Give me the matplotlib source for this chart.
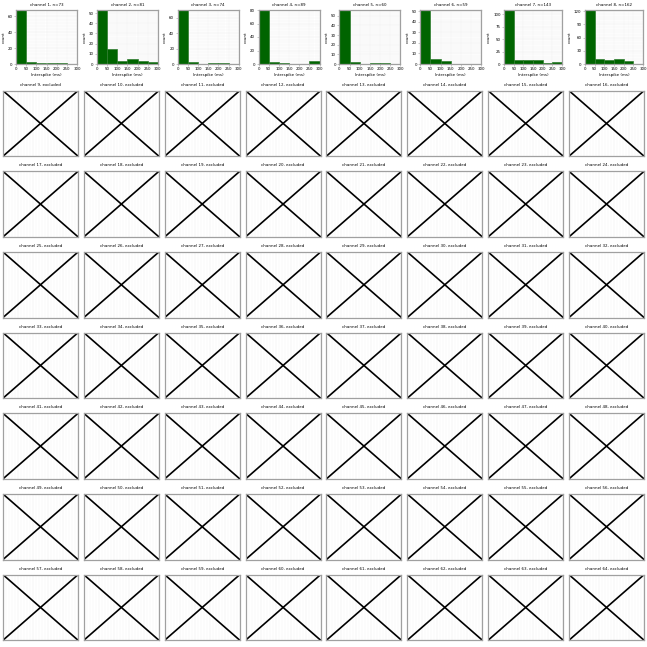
import numpy as np
import matplotlib
matplotlib.use("Agg")
import matplotlib.pyplot as plt
from matplotlib.ticker import MultipleLocator

# histogram data for the kept channels (bins of 50 ms, 0 -> 300 ms)
bin_edges = [0, 50, 100, 150, 200, 250, 300]
kept_channels = [1, 2, 3, 4, 5, 6, 7, 8]
n_spikes = [73, 81, 74, 89, 60, 59, 143, 162]
counts_ch1 = [68, 2, 1, 1, 1, 0]
counts_ch2 = [53, 15, 3, 5, 3, 2]
counts_ch3 = [70, 2, 0, 1, 1, 0]
counts_ch4 = [80, 3, 2, 0, 0, 4]
counts_ch5 = [56, 2, 0, 1, 1, 0]
counts_ch6 = [51, 5, 3, 0, 0, 0]
counts_ch7 = [109, 8, 9, 9, 3, 5]
counts_ch8 = [123, 12, 8, 12, 6, 1]
all_counts = [counts_ch1, counts_ch2, counts_ch3, counts_ch4,
              counts_ch5, counts_ch6, counts_ch7, counts_ch8]
ytick_step = [20, 10, 20, 20, 10, 10, 25, 30]
xticks = [0, 50, 100, 150, 200, 250, 300]

excluded_channels = list(range(9, 65))

W = 647.0
fig = plt.figure(figsize=(6.47, 6.47), dpi=100)

col_pitch = 80.86
row_pitch = 80.67
FS = 2.9
SPINE = '#a0a0a0'


def px_axes(left, top, width, height):
    return fig.add_axes([left / W, 1 - (top + height) / W, width / W, height / W])


def style_grid(ax):
    ax.set_axisbelow(True)
    ax.grid(True, which='major', color='#ececec', lw=0.35)
    ax.grid(True, which='minor', color='#f5f5f5', lw=0.3)
    for s in ax.spines.values():
        s.set_color(SPINE)
        s.set_linewidth(0.9)


# first row: histograms
for i, ch in enumerate(kept_channels):
    counts = np.array(all_counts[i])
    centers = (np.array(bin_edges[:-1]) + np.array(bin_edges[1:])) / 2
    cell_left = 3 + i * col_pitch
    off = 16 if counts.max() >= 100 else 13
    ax = px_axes(cell_left + off, 10, 74 - off, 54)
    ax.hist(centers, bins=bin_edges, weights=counts, color='#006400',
            edgecolor='#2f7d2f', linewidth=0.5, zorder=2)
    ax.set_xlim(0, 300)
    ax.set_ylim(0, counts.max())
    ax.set_xticks(xticks)
    ax.yaxis.set_major_locator(MultipleLocator(ytick_step[i]))
    ax.xaxis.set_minor_locator(MultipleLocator(10))
    ax.yaxis.set_minor_locator(MultipleLocator(ytick_step[i] / 5))
    ax.tick_params(which='major', labelsize=FS, length=1.5, width=0.4,
                   color=SPINE, pad=1)
    ax.tick_params(which='minor', length=0)
    ax.set_title(f"channel {ch}, n={n_spikes[i]}", fontsize=FS, pad=3)
    ax.set_xlabel("Interspike (ms)", fontsize=FS, labelpad=1)
    ax.set_ylabel("count", fontsize=FS, labelpad=1.5)
    style_grid(ax)

# remaining rows: excluded channels with a cross
for k, ch in enumerate(excluded_channels):
    idx = k + 8
    r, c = divmod(idx, 8)
    ax = px_axes(3 + c * col_pitch, 10 + r * row_pitch, 75, 65.5)
    ax.set_xlim(0, 1)
    ax.set_ylim(0, 1)
    ax.xaxis.set_minor_locator(MultipleLocator(0.04))
    ax.set_xticks([0, 0.2, 0.4, 0.6, 0.8, 1.0])
    ax.set_yticks([])
    ax.tick_params(which='both', length=0, labelbottom=False, labelleft=False)
    ax.plot([0, 1], [0, 1], color='black', lw=1.2, transform=ax.transAxes)
    ax.plot([0, 1], [1, 0], color='black', lw=1.2, transform=ax.transAxes)
    ax.set_title(f"channel {ch}, excluded", fontsize=FS, pad=3.5)
    style_grid(ax)

fig.savefig("out.png", dpi=100)
